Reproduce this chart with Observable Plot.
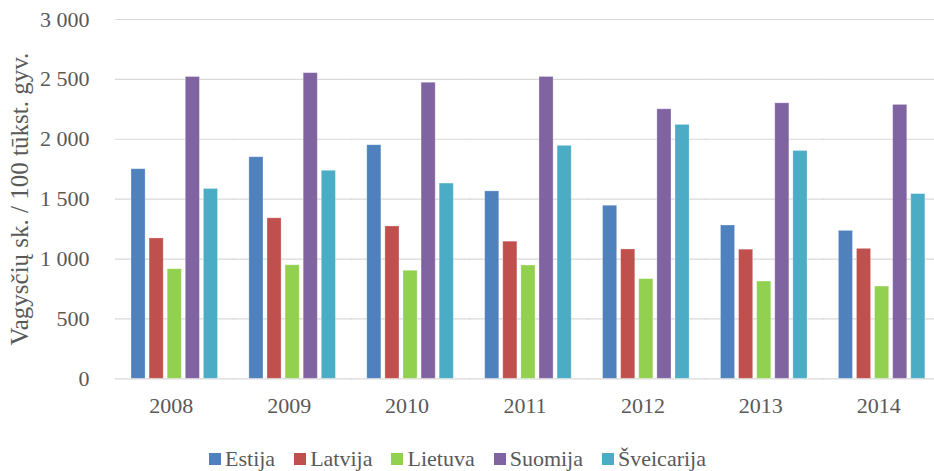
<!DOCTYPE html>
<html>
<head>
<meta charset="utf-8">
<script src="https://cdn.jsdelivr.net/npm/d3@7"></script>
<script src="https://cdn.jsdelivr.net/npm/@observablehq/plot@0.6"></script>
<style>
  html, body { margin: 0; padding: 0; background: #fff; overflow: hidden; }
  #chart { width: 934px; }
  #chart svg, #chart svg text { font-family: "Liberation Serif", "DejaVu Serif", "Times New Roman", serif !important; }
  #chart g[aria-label="y-axis label"] text { font-size: 25px !important; }
  .lg-swatches { font-family: "Liberation Serif", "DejaVu Serif", "Times New Roman", serif !important; font-size: 22px !important; color: #595959 !important; justify-content: center !important; margin: 4px 0 0 0 !important; }
  .lg-swatch { margin-right: 19px !important; }
  .lg-swatch > svg { margin-right: 4px !important; }
</style>
</head>
<body>
<div id="chart"></div>
<script>
const years = ["2008", "2009", "2010", "2011", "2012", "2013", "2014"];
const countries = ["Estija", "Latvija", "Lietuva", "Suomija", "Šveicarija"];
const colors = ["#4F81BD", "#C0504D", "#92D050", "#8064A2", "#4BACC6"];
const estija     = [1750, 1850, 1950, 1565, 1445, 1280, 1235];
const latvija    = [1172, 1340, 1272, 1145, 1080, 1078, 1085];
const lietuva    = [915, 948, 902, 946, 832, 812, 770];
const suomija    = [2520, 2552, 2472, 2520, 2250, 2300, 2287];
const sveicarija = [1585, 1737, 1630, 1945, 2120, 1902, 1542];
const yTicks = [0, 500, 1000, 1500, 2000, 2500, 3000];
const yLabel = "Vagysčių sk. / 100 tūkst. gyv.";

const series = [estija, latvija, lietuva, suomija, sveicarija];
const rows = [];
years.forEach((yr, i) => countries.forEach((c, j) => rows.push({year: yr, country: c, value: series[j][i]})));

const fmt = d => d3.format(",")(d).replace(/,/g, " ");

const plot = Plot.plot({
  width: 934,
  height: 438,
  marginLeft: 115,
  marginRight: 0,
  marginTop: 19,
  marginBottom: 59.7,
  style: {fontSize: "22px", color: "#595959", background: "#fff"},
  fx: {domain: years, paddingInner: 0.0534, paddingOuter: 0, round: false, label: null, tickSize: 0, tickPadding: 19, axis: "bottom"},
  x: {domain: countries, paddingInner: 0.22, paddingOuter: 0.693, align: 0.637, round: false, axis: null},
  y: {domain: [0, 3000], ticks: yTicks, tickFormat: fmt, tickSize: 0, tickPadding: 26,
      label: yLabel, labelAnchor: "center", labelOffset: 105, labelArrow: false},
  color: {domain: countries, range: colors},
  marks: [
    Plot.ruleY(yTicks, {stroke: "#d9d9d9", strokeWidth: 1.2, insetLeft: 0, insetRight: -8}),
    Plot.barY(rows, {fx: "year", x: "country", y: "value", fill: "country", stroke: "white", strokeOpacity: 0.35, strokeWidth: 0.8})
  ]
});
document.getElementById("chart").append(plot);

const legend = Plot.legend({
  color: {domain: countries, range: colors},
  legend: "swatches",
  swatchSize: 12,
  className: "lg"
});
document.getElementById("chart").append(legend);
</script>
</body>
</html>
